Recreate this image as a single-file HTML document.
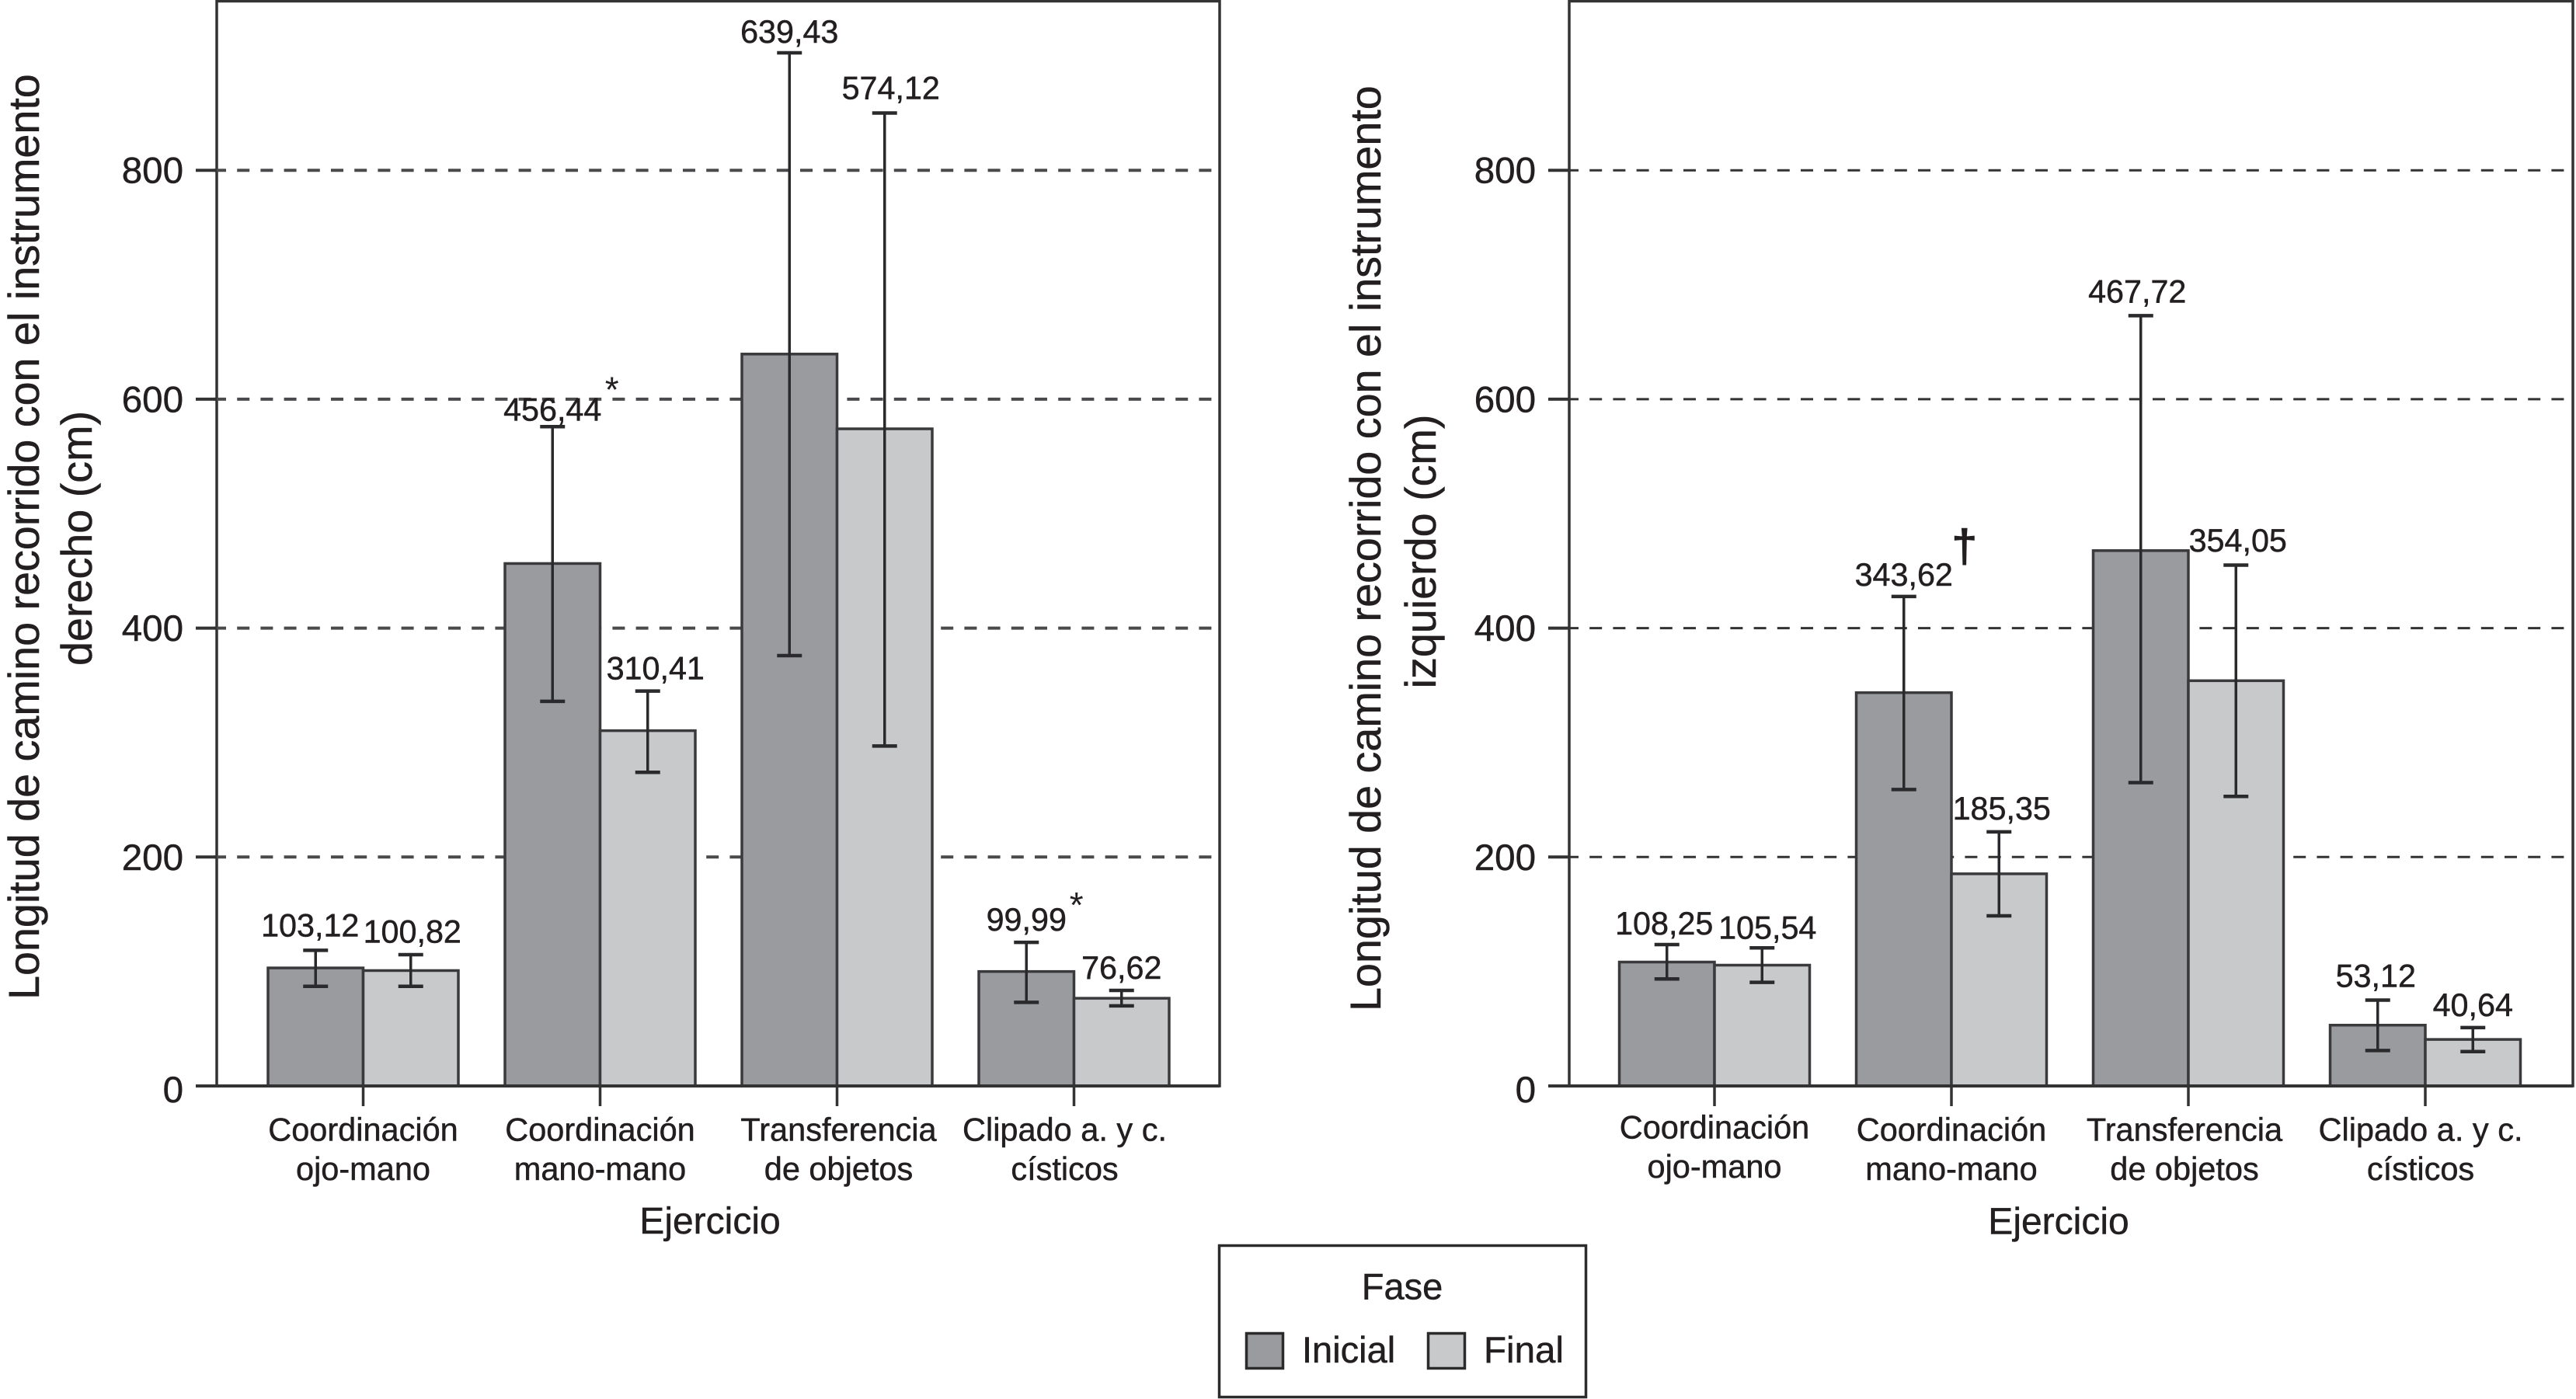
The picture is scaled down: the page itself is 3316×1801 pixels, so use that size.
<!DOCTYPE html>
<html lang="es">
<head>
<meta charset="utf-8">
<title>Longitud de camino recorrido</title>
<style>
html,body{margin:0;padding:0;background:#fff;width:3316px;height:1801px;overflow:hidden}
svg{display:block}
text{font-family:"Liberation Sans",sans-serif;fill:#231f20;stroke:#231f20;stroke-width:.5px}
</style>
</head>
<body>
<svg id="chart" xmlns="http://www.w3.org/2000/svg" width="3316" height="1801" viewBox="0 0 3316 1801">
  <rect x="0" y="0" width="3316" height="1801" fill="#fff"/>
  <g id="panel-left"></g>
  <g id="panel-right"></g>

  <text font-size="55.7" transform="translate(50,1287) rotate(-90)">Longitud de camino recorrido con el instrumento</text>
  <text font-size="55.7" text-anchor="middle" transform="translate(118,693) rotate(-90)">derecho (cm)</text>
  <text font-size="55.7" transform="translate(1777,1302) rotate(-90)">Longitud de camino recorrido con el instrumento</text>
  <text font-size="55.7" text-anchor="middle" transform="translate(1848,710) rotate(-90)">izquierdo (cm)</text>

  <text font-size="48" text-anchor="middle" x="914" y="1588">Ejercicio</text>
  <text font-size="48" text-anchor="middle" x="2650" y="1588.5">Ejercicio</text>

  <g>
    <rect x="1569.5" y="1603.5" width="472" height="195" fill="#fff" stroke="#2b2b2b" stroke-width="3.5"/>
    <text font-size="47" text-anchor="middle" x="1805" y="1672.5">Fase</text>
    <rect x="1604.5" y="1716.5" width="47" height="45" fill="#9a9b9e" stroke="#2b2b2b" stroke-width="3.5"/>
    <text font-size="47" x="1676" y="1754">Inicial</text>
    <rect x="1838.5" y="1716.5" width="47" height="45" fill="#c8c9cb" stroke="#2b2b2b" stroke-width="3.5"/>
    <text font-size="47.5" x="1910" y="1754">Final</text>
  </g>
</svg>
<script>
// ---- chart data ----
const categoryLines = [
  ['Coordinación', 'ojo-mano'],
  ['Coordinación', 'mano-mano'],
  ['Transferencia', 'de objetos'],
  ['Clipado a. y c.', 'císticos']
];
const yTicks = [0, 200, 400, 600, 800];

const rightInstrumentInicial = [103.12, 456.44, 639.43, 99.99];
const rightInstrumentFinal = [100.82, 310.41, 574.12, 76.62];
const rightInicialUpper = [118.5, 576, 902.6, 125.5];
const rightInicialLower = [87, 336, 376, 73];
const rightFinalUpper = [114.7, 345, 850, 83.5];
const rightFinalLower = [87, 274, 297, 70];
const rightInicialNotes = ['', '*', '', '*'];
const rightFinalNotes = ['', '', '', ''];

const leftInstrumentInicial = [108.25, 343.62, 467.72, 53.12];
const leftInstrumentFinal = [105.54, 185.35, 354.05, 40.64];
const leftInicialUpper = [123.5, 427.6, 673, 75];
const leftInicialLower = [93.5, 259, 265, 31];
const leftFinalUpper = [120.6, 222, 455, 51];
const leftFinalLower = [90.5, 148.6, 253, 30];
const leftInicialNotes = ['', '†', '', ''];
const leftFinalNotes = ['', '', '', ''];

// ---- layout (not data) ----
const Y0 = 1398;
const PX_PER_UNIT = 1.4735;
const BAR_W = 122.5;
const CATEGORY_STEP = 305;
const CAP_W = 32;
const LABEL_GAP = 15;
const SVG_NS = 'http://www.w3.org/2000/svg';

function yScale(v) { return Y0 - v * PX_PER_UNIT; }

function make(parent, tag, attrs, text) {
  const el = document.createElementNS(SVG_NS, tag);
  for (const k in attrs) el.setAttribute(k, attrs[k]);
  if (text !== undefined) el.textContent = text;
  parent.appendChild(el);
  return el;
}

function fmt(v) { return v.toFixed(2).replace('.', ','); }

function drawPanel(root, cfg) {
  const xCenter = i => cfg.firstCenter + CATEGORY_STEP * i;

  // frame
  const frame = make(root, 'rect', { x: cfg.left, y: 1.5, width: cfg.right - cfg.left, height: Y0 - 1.5, fill: '#fff', stroke: '#333', 'stroke-width': 3.5 });
  
  

  // gridlines, y ticks and y labels
  yTicks.forEach(t => {
    const y = yScale(t);
    if (t > 0) {
      const grid = make(root, 'line', { x1: cfg.left - 4, x2: cfg.right - 6, y1: y, y2: y, stroke: cfg.gridColor, 'stroke-width': cfg.gridWidth, 'stroke-dasharray': '16 14.2' });
      
      
    }
    const tick = make(root, 'line', { x1: cfg.left - 27, x2: cfg.left, y1: y, y2: y, stroke: '#333', 'stroke-width': 4 });
    
    
    const lab = make(root, 'text', { x: cfg.left - 43, y: y + (t === 0 ? 21 : 16.5), 'font-size': 47.5, 'text-anchor': 'end' }, String(t));
    
    
  });

  // series
  const series = [
    { key: 'inicial', vals: cfg.ini, up: cfg.iniUp, lo: cfg.iniLo, notes: cfg.iniNotes, fill: '#9a9b9e', off: -BAR_W / 2, dx: cfg.iniDx, dy: cfg.iniDy },
    { key: 'final', vals: cfg.fin, up: cfg.finUp, lo: cfg.finLo, notes: cfg.finNotes, fill: '#c8c9cb', off: BAR_W / 2, dx: cfg.finDx, dy: cfg.finDy }
  ];

  series.forEach(s => {
    s.vals.forEach((v, i) => {
      const cx = xCenter(i) + s.off;
      const bar = make(root, 'rect', { x: cx - BAR_W / 2, y: yScale(v), width: BAR_W, height: Y0 - yScale(v), fill: s.fill, stroke: '#3a3a3c', 'stroke-width': 3.5 });
      
      
    });
  });

  // baseline
  const base = make(root, 'line', { x1: cfg.left - 27, x2: cfg.right, y1: Y0, y2: Y0, stroke: '#333', 'stroke-width': 4 });
  
  

  // error bars, labels, notes
  series.forEach(s => {
    s.vals.forEach((v, i) => {
      const cx = xCenter(i) + s.off;
      const yUp = yScale(s.up[i]);
      const yLo = yScale(s.lo[i]);
      const stem = make(root, 'line', { x1: cx, x2: cx, y1: yUp, y2: yLo, stroke: '#2a2a2c', 'stroke-width': 3.5 });
      
      
      const capTop = make(root, 'line', { x1: cx - CAP_W / 2, x2: cx + CAP_W / 2, y1: yUp, y2: yUp, stroke: '#2a2a2c', 'stroke-width': 4.5 });
      
      
      const capBot = make(root, 'line', { x1: cx - CAP_W / 2, x2: cx + CAP_W / 2, y1: yLo, y2: yLo, stroke: '#2a2a2c', 'stroke-width': 4.5 });
      
      

      const lx = cx + s.dx[i];
      const ly = yUp - LABEL_GAP + s.dy[i];
      const lab = make(root, 'text', { x: lx, y: ly, 'font-size': 41.3, 'text-anchor': 'middle' }, fmt(v));
      
      

      const note = s.notes[i];
      if (note === '*') {
        const star = make(root, 'text', { x: lx + (i === 1 ? 76.5 : 64.5), y: ly + (i === 1 ? -24 : -17), 'font-size': 46, 'text-anchor': 'middle', style: 'stroke-width:0' }, note);
        
        
      } else if (note) {
        const dag = make(root, 'text', { x: lx + 78, y: ly - 31, 'font-size': 58, 'text-anchor': 'middle', style: 'stroke-width:1.5px' }, note);
        
        
      }
    });
  });

  // x ticks and category labels
  categoryLines.forEach((lines, i) => {
    const cx = xCenter(i);
    const tick = make(root, 'line', { x1: cx, x2: cx, y1: Y0, y2: 1424, stroke: '#333', 'stroke-width': 3.5 });
    
    
    lines.forEach((line, j) => {
      const t = make(root, 'text', { x: cx + cfg.catDx[i], y: 1468.5 + cfg.catDy[i] + j * 50.5, 'font-size': 41.5, 'text-anchor': 'middle' }, line);
      
      
    });
  });
}

drawPanel(document.getElementById('panel-left'), {
  left: 279, right: 1570, firstCenter: 467.5,
  gridColor: '#4a4a4c', gridWidth: 4,
  ini: rightInstrumentInicial, fin: rightInstrumentFinal,
  iniUp: rightInicialUpper, iniLo: rightInicialLower,
  finUp: rightFinalUpper, finLo: rightFinalLower,
  iniNotes: rightInicialNotes, finNotes: rightFinalNotes,
  iniDx: [-7, 0, 0, 0], iniDy: [-3, 7, 2, 0],
  finDx: [2, 10, 8, 0], finDy: [-0.5, 0, -3, 0],
  catDx: [0, 0, 2, -12], catDy: [0, 0, 0, 0]
});

drawPanel(document.getElementById('panel-right'), {
  left: 2020, right: 3312, firstCenter: 2207,
  gridColor: '#333', gridWidth: 3,
  ini: leftInstrumentInicial, fin: leftInstrumentFinal,
  iniUp: leftInicialUpper, iniLo: leftInicialLower,
  finUp: leftFinalUpper, finLo: leftFinalLower,
  iniNotes: leftInicialNotes, finNotes: leftFinalNotes,
  iniDx: [-3.5, 0, -4.5, -2.5], iniDy: [2, 1, -2, -2],
  finDx: [7, 3.5, 2.5, 0], finDy: [3, -1, -2.5, 0],
  catDx: [0, 0, -5, -6], catDy: [-3, 0, 0, 0]
});
</script>
</body>
</html>
